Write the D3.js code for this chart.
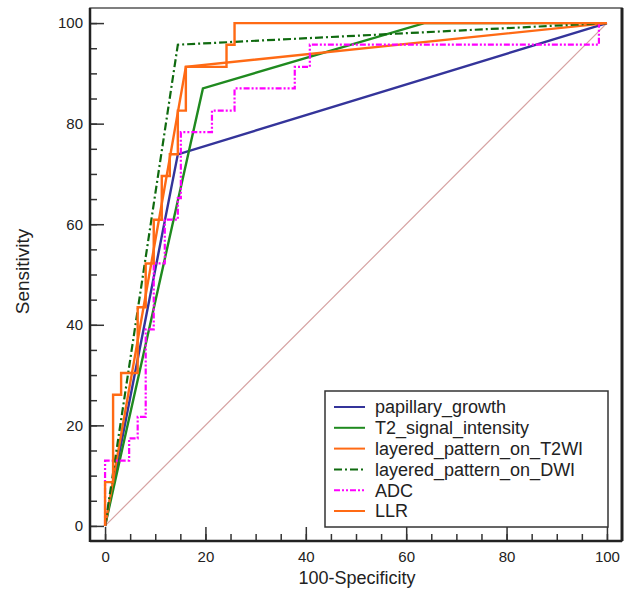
<!DOCTYPE html>
<html>
<head>
<meta charset="utf-8">
<script src="https://cdn.jsdelivr.net/npm/d3@7"></script>
<style>
  body { margin: 0; background: #fff; }
  svg { font-family: Arial, "Liberation Sans", sans-serif; }
</style>
</head>
<body>
<svg class="roc-svg" width="633" height="594"></svg>
<script>
// ROC curves, x = 100-Specificity, y = Sensitivity (both in %)
const categories = ['papillary_growth', 'T2_signal_intensity', 'layered_pattern_on_T2WI',
  'layered_pattern_on_DWI', 'ADC', 'LLR'];

const papillaryFpr = [0, 14.5, 100];
const papillaryTpr = [0, 73.9, 100];

const t2SignalFpr = [0, 19.5, 63.6, 100];
const t2SignalTpr = [0, 87.0, 100, 100];

const t2wiFpr = [0, 16.1, 100];
const t2wiTpr = [0, 91.3, 100];

const dwiFpr = [0, 14.5, 100];
const dwiTpr = [0, 95.7, 100];

// stepped curves: each point = (fpr where sensitivity jumps, sensitivity after jump)
const adcFpr = [0, 0, 4.8, 6.5, 8.1, 9.7, 11.9, 14.5, 15.1, 21.3, 25.8, 37.8, 40.8, 98.4, 100];
const adcTpr = [0, 13.0, 17.4, 21.7, 39.1, 52.2, 60.9, 65.2, 78.3, 82.6, 87.0, 91.3, 95.7, 100, 100];

const llrFpr = [0, 0, 1.6, 3.2, 6.5, 8.1, 9.7, 11.3, 12.9, 14.5, 16.1, 24.2, 25.8, 100];
const llrTpr = [0, 8.7, 26.1, 30.4, 43.5, 52.2, 60.9, 69.6, 73.9, 82.6, 91.3, 95.7, 100, 100];

const majorTicks = [0, 20, 40, 60, 80, 100];
const minorTicks = d3.range(0, 101, 5);

const series = [
  { name: categories[0], fpr: papillaryFpr, tpr: papillaryTpr, color: '#34349a', dash: null, step: false },
  { name: categories[1], fpr: t2SignalFpr, tpr: t2SignalTpr, color: '#1f8a1f', dash: null, step: false },
  { name: categories[2], fpr: t2wiFpr, tpr: t2wiTpr, color: '#ff6a14', dash: null, step: false },
  { name: categories[3], fpr: dwiFpr, tpr: dwiTpr, color: '#0f6a0f', dash: '8,3,2,3', step: false },
  { name: categories[4], fpr: adcFpr, tpr: adcTpr, color: '#ff00ff', dash: '6,2,2,2,2,2', step: true },
  { name: categories[5], fpr: llrFpr, tpr: llrTpr, color: '#ff6a14', dash: null, step: true }
];

const svg = d3.select('.roc-svg');
const frameL = 90, frameR = 622, frameT = 8, frameB = 541;

const x = d3.scaleLinear().domain([-3, 103]).range([frameL, frameR]);
const y = d3.scaleLinear().domain([-3, 103]).range([frameB, frameT]);

// frame
svg.append('rect')
  .attr('x', frameL).attr('y', frameT)
  .attr('width', frameR - frameL).attr('height', frameB - frameT)
  .attr('fill', 'none')
  .attr('stroke', '#555')
  .attr('stroke-width', 1.5);
svg.append('line')
  .attr('x1', frameR).attr('x2', frameR).attr('y1', frameT).attr('y2', frameB)
  .attr('stroke', '#222').attr('stroke-width', 3);

// reference diagonal
svg.append('line')
  .attr('x1', x(0)).attr('y1', y(0))
  .attr('x2', x(100)).attr('y2', y(100))
  .attr('stroke', '#d6a2a2')
  .attr('stroke-width', 1.2);

const line = d3.line().x(d => x(d[0])).y(d => y(d[1]));
const stepLine = d3.line().x(d => x(d[0])).y(d => y(d[1])).curve(d3.curveStepAfter);

series.forEach(s => {
  const pts = s.fpr.map((f, i) => [f, s.tpr[i]]);
  svg.append('path')
    .datum(pts)
    .attr('d', s.step ? stepLine : line)
    .attr('fill', 'none')
    .attr('stroke', s.color)
    .attr('stroke-width', s.dash ? 2.2 : 2.4)
    .attr('stroke-dasharray', s.dash)
    .attr('stroke-linejoin', 'miter');
});

// axes, ticks pointing inward
const yMinor = svg.append('g').attr('transform', `translate(${frameL},0)`)
  .call(d3.axisLeft(y).tickValues(minorTicks).tickSize(-7).tickFormat(''));
const yMajor = svg.append('g').attr('transform', `translate(${frameL},0)`)
  .call(d3.axisLeft(y).tickValues(majorTicks).tickSize(-14).tickPadding(7));
const xMinor = svg.append('g').attr('transform', `translate(0,${frameB})`)
  .call(d3.axisBottom(x).tickValues(minorTicks).tickSize(-7).tickFormat(''));
const xMajor = svg.append('g').attr('transform', `translate(0,${frameB})`)
  .call(d3.axisBottom(x).tickValues(majorTicks).tickSize(-14).tickPadding(8));

[yMinor, yMajor, xMinor, xMajor].forEach(g => {
  g.select('.domain').remove();
  g.selectAll('.tick line').attr('stroke', '#333').attr('stroke-width', 1.5);
  g.selectAll('.tick text').attr('font-size', 15).attr('fill', '#222');
});
xMajor.selectAll('.tick text').attr('dy', '0.85em');

svg.append('line')
  .attr('x1', frameL).attr('x2', frameL).attr('y1', frameT).attr('y2', frameB + 1)
  .attr('stroke', '#222').attr('stroke-width', 2.5);
svg.append('line')
  .attr('x1', frameL).attr('x2', frameR).attr('y1', frameB).attr('y2', frameB)
  .attr('stroke', '#222').attr('stroke-width', 2.5);

// axis titles
svg.append('text')
  .attr('x', (frameL + frameR) / 2 + 1).attr('y', 584)
  .attr('text-anchor', 'middle')
  .attr('font-size', 18)
  .attr('fill', '#222')
  .text('100-Specificity');
svg.append('text')
  .attr('transform', `translate(29,${(frameT + frameB) / 2 - 3}) rotate(-90)`)
  .attr('text-anchor', 'middle')
  .attr('font-size', 19)
  .attr('fill', '#222')
  .text('Sensitivity');

// legend
const lg = svg.append('g').attr('transform', 'translate(325,391)');
lg.append('rect')
  .attr('width', 283).attr('height', 136)
  .attr('fill', '#fff')
  .attr('stroke', '#333')
  .attr('stroke-width', 1.5);
series.forEach((s, i) => {
  const row = lg.append('g').attr('transform', `translate(0,${16 + i * 20.8})`);
  row.append('line')
    .attr('x1', 9).attr('x2', 40)
    .attr('stroke', s.color)
    .attr('stroke-width', 2)
    .attr('stroke-dasharray', s.dash);
  row.append('text')
    .attr('x', 50).attr('dy', '0.35em')
    .attr('font-size', 18)
    .attr('fill', '#222')
    .text(s.name);
});
</script>
</body>
</html>
